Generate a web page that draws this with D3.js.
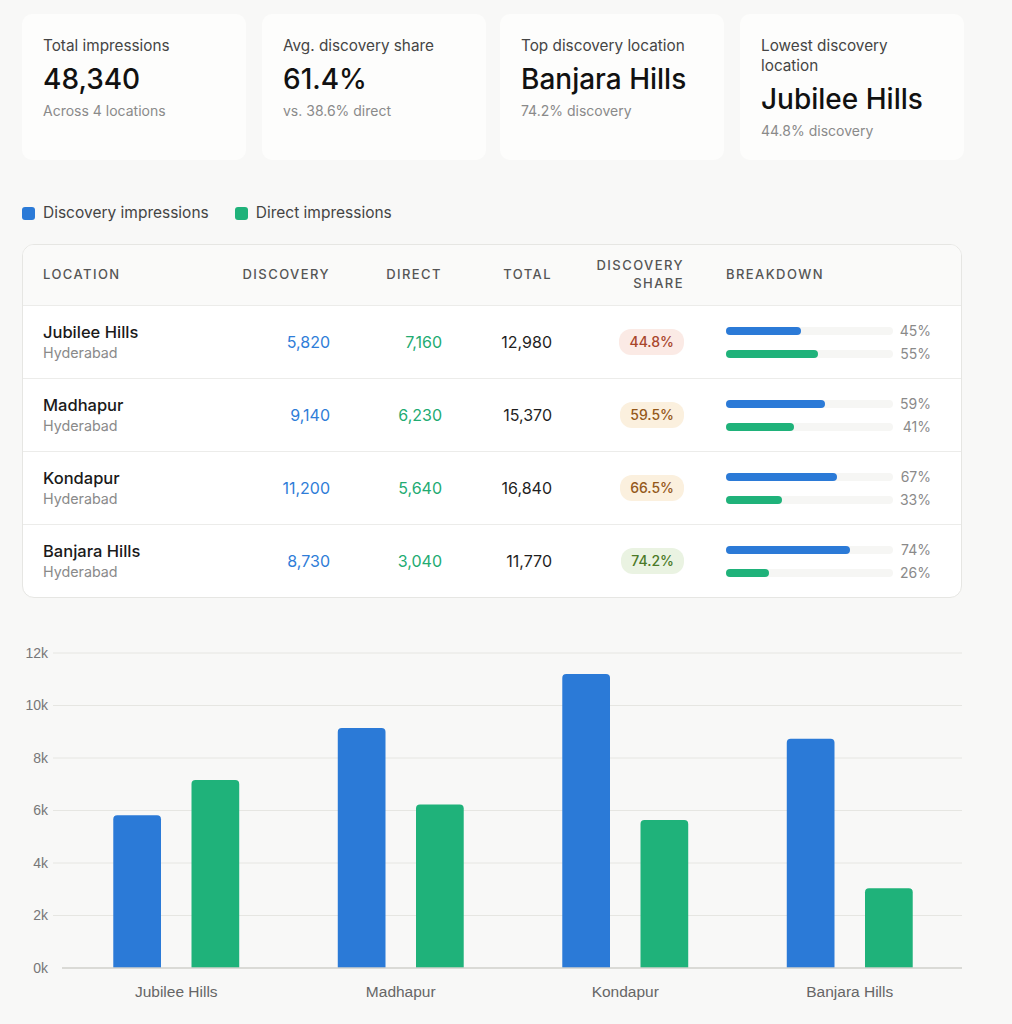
<!DOCTYPE html>
<html>
<head>
<meta charset="utf-8">
<script src="https://cdn.jsdelivr.net/npm/d3@7"></script>
<style>
  body { margin: 0; background: #f8f8f7; font-family: Inter, "Noto Sans", sans-serif; color: #1a1a1a; }
  #page { position: relative; width: 1012px; height: 1024px; }
  .card { position: absolute; top: 14px; width: 224px; height: 146px; box-sizing: border-box;
          padding: 22px 21px 0 21px; background: #fdfdfc; border-radius: 10px; }
  .card .lbl { font-size: 15.3px; line-height: 20px; color: #454545; }
  .card .val { font-size: 28px; line-height: 34px; font-weight: 500; margin-top: 6px; color: #111; }
  .card .sub { font-size: 14px; line-height: 20px; color: #8a8a8a; margin-top: 5px; }
  #legend { position: absolute; top: 203px; left: 22px; display: flex; font-size: 15.5px; color: #444; line-height: 20px; }
  #legend .item { display: flex; align-items: center; margin-right: 26px; }
  #legend .sw { width: 13px; height: 13px; border-radius: 3px; margin-right: 8px; }
  #table { position: absolute; top: 244px; left: 22px; width: 940px; box-sizing: border-box;
           background: #fff; border: 1px solid #e6e6e3; border-radius: 12px; overflow: hidden; }
  .row { display: flex; height: 73px; align-items: center; padding-left: 20px; border-top: 1px solid #ececea; box-sizing: border-box; }
  .head { height: 60px; padding-bottom: 2px; background: #fafaf9; border-top: none; font-size: 13px; font-weight: 500;
          letter-spacing: 0.11em; color: #555; line-height: 18px; }
  .c1 { width: 187px; } .c2 { width: 100px; text-align: right; } .c3 { width: 112px; text-align: right; }
  .c4 { width: 110px; text-align: right; } .c5 { width: 132px; text-align: right; } .c6 { width: 215px; padding-left: 42px; }
  .name { font-size: 16.5px; line-height: 22px; font-weight: 500; color: #1a1a1a; }
  .city { font-size: 14.3px; line-height: 20px; color: #8a8a8a; }
  .num { font-size: 16px; }
  .badge { display: inline-block; font-size: 14px; font-weight: 500; line-height: 26px; padding: 0 10px; border-radius: 12px; }
  .bk { display: flex; align-items: center; height: 23px; }
  .track { width: 167px; height: 8px; border-radius: 4px; background: #f6f6f4; position: relative; }
  .fill { position: absolute; left: 0; top: 0; height: 8px; border-radius: 4px; }
  .pct { width: 38px; text-align: right; font-size: 14px; color: #8a8a8a; }
  #chart { position: absolute; top: 620px; left: 0; }
</style>
</head>
<body>
<div id="page">
  <div id="legend"></div>
  <div id="table"></div>
  <svg id="chart" width="1012" height="404"></svg>
</div>
<script>
const locations = ["Jubilee Hills", "Madhapur", "Kondapur", "Banjara Hills"];
const cities = ["Hyderabad", "Hyderabad", "Hyderabad", "Hyderabad"];
const discovery = [5820, 9140, 11200, 8730];
const direct = [7160, 6230, 5640, 3040];
const seriesNames = ["Discovery impressions", "Direct impressions"];
const seriesColors = ["#2b7ad7", "#1fb27a"];
const textColors = ["#2f7dd8", "#22ab72"];
const yTicks = [0, 2000, 4000, 6000, 8000, 10000, 12000];

const kpiLabels = ["Total impressions", "Avg. discovery share", "Top discovery location", "Lowest discovery location"];
const kpiValues = ["48,340", "61.4%", "Banjara Hills", "Jubilee Hills"];
const kpiSubs = ["Across 4 locations", "vs. 38.6% direct", "74.2% discovery", "44.8% discovery"];

const fmt = d3.format(",");
const page = d3.select("#page");

// KPI cards
const cardLeft = [22, 262, 500, 740];
kpiLabels.forEach((lbl, i) => {
    const card = page.append("div").attr("class", "card").style("left", cardLeft[i] + "px");
    card.append("div").attr("class", "lbl").text(lbl);
    card.append("div").attr("class", "val").text(kpiValues[i]);
    card.append("div").attr("class", "sub").text(kpiSubs[i]);
});

// legend
const legend = d3.select("#legend");
seriesNames.forEach((name, i) => {
    const it = legend.append("div").attr("class", "item");
    it.append("div").attr("class", "sw").style("background", seriesColors[i]);
    it.append("div").text(name);
});

// table
const table = d3.select("#table");
const head = table.append("div").attr("class", "row head");
head.append("div").attr("class", "c1").text("LOCATION");
head.append("div").attr("class", "c2").text("DISCOVERY");
head.append("div").attr("class", "c3").text("DIRECT");
head.append("div").attr("class", "c4").text("TOTAL");
head.append("div").attr("class", "c5").html("DISCOVERY<br>SHARE");
head.append("div").attr("class", "c6").text("BREAKDOWN");

const bw = d3.scaleLinear().domain([0, 1]).range([0, 167]);

function badgeStyle(share) {
    if (share < 0.5) return { bg: "#fbeae5", fg: "#a8452b" };
    if (share < 0.7) return { bg: "#fbf0de", fg: "#94581a" };
    return { bg: "#eaf3e2", fg: "#4a7a28" };
}

locations.forEach((loc, i) => {
    const total = discovery[i] + direct[i];
    const share = discovery[i] / total;
    const row = table.append("div").attr("class", "row");
    const c1 = row.append("div").attr("class", "c1");
    c1.append("div").attr("class", "name").text(loc);
    c1.append("div").attr("class", "city").text(cities[i]);
    row.append("div").attr("class", "c2 num").style("color", textColors[0]).text(fmt(discovery[i]));
    row.append("div").attr("class", "c3 num").style("color", textColors[1]).text(fmt(direct[i]));
    row.append("div").attr("class", "c4 num").style("color", "#1f1f1f").text(fmt(total));
    const bs = badgeStyle(share);
    row.append("div").attr("class", "c5").append("span").attr("class", "badge")
        .style("background", bs.bg).style("color", bs.fg)
        .text((share * 100).toFixed(1) + "%");
    const c6 = row.append("div").attr("class", "c6");
    [share, 1 - share].forEach((v, k) => {
        const line = c6.append("div").attr("class", "bk");
        line.append("div").attr("class", "track")
            .append("div").attr("class", "fill")
            .style("width", bw(v) + "px").style("background", seriesColors[k]);
        line.append("div").attr("class", "pct").text(Math.round(v * 100) + "%");
    });
});

// grouped bar chart
const svg = d3.select("#chart");
const plotTop = 33, plotLeft = 64, plotRight = 962, plotBottom = 348;
const x0 = d3.scaleBand().domain(locations).range([plotLeft, plotRight]);
const x1 = d3.scaleBand().domain([0, 1]).range([0, x0.bandwidth()]).paddingInner(0.39).paddingOuter(0.63);
const y = d3.scaleLinear().domain([0, 12000]).range([plotBottom, plotTop]);

svg.append("g").selectAll("line").data(yTicks.filter(d => d > 0)).join("line")
    .attr("x1", 53).attr("x2", plotRight)
    .attr("y1", d => y(d)).attr("y2", d => y(d))
    .attr("stroke", "#e6e6e2").attr("stroke-width", 1);

svg.append("g").selectAll("text").data(yTicks).join("text")
    .attr("x", 48).attr("y", d => y(d)).attr("dy", "0.35em")
    .attr("text-anchor", "end")
    .attr("font-family", "'Liberation Sans', Arial, sans-serif").attr("font-size", 14).attr("fill", "#777")
    .text(d => (d / 1000) + "k");

const groups = svg.append("g").selectAll("g").data(locations).join("g")
    .attr("transform", d => `translate(${x0(d)},0)`);

function topRounded(x, yTop, w, h, r) {
    return `M${x},${yTop + h} V${yTop + r} Q${x},${yTop} ${x + r},${yTop} H${x + w - r} Q${x + w},${yTop} ${x + w},${yTop + r} V${yTop + h} Z`;
}

groups.selectAll("path").data((d, i) => [discovery[i], direct[i]]).join("path")
    .attr("d", (v, k) => topRounded(x1(k), y(v), x1.bandwidth(), plotBottom - y(v), 4))
    .attr("fill", (v, k) => seriesColors[k]);

svg.append("line").attr("x1", 62).attr("x2", plotRight).attr("y1", plotBottom).attr("y2", plotBottom)
    .attr("stroke", "#d0d0cb").attr("stroke-width", 1.5);

svg.append("g").selectAll("text").data(locations).join("text")
    .attr("x", d => x0(d) + x0.bandwidth() / 2).attr("y", plotBottom + 24).attr("dy", "0.35em")
    .attr("text-anchor", "middle")
    .attr("font-family", "'Liberation Sans', Arial, sans-serif").attr("font-size", 15.5).attr("fill", "#666")
    .text(d => d);
</script>
</body>
</html>
